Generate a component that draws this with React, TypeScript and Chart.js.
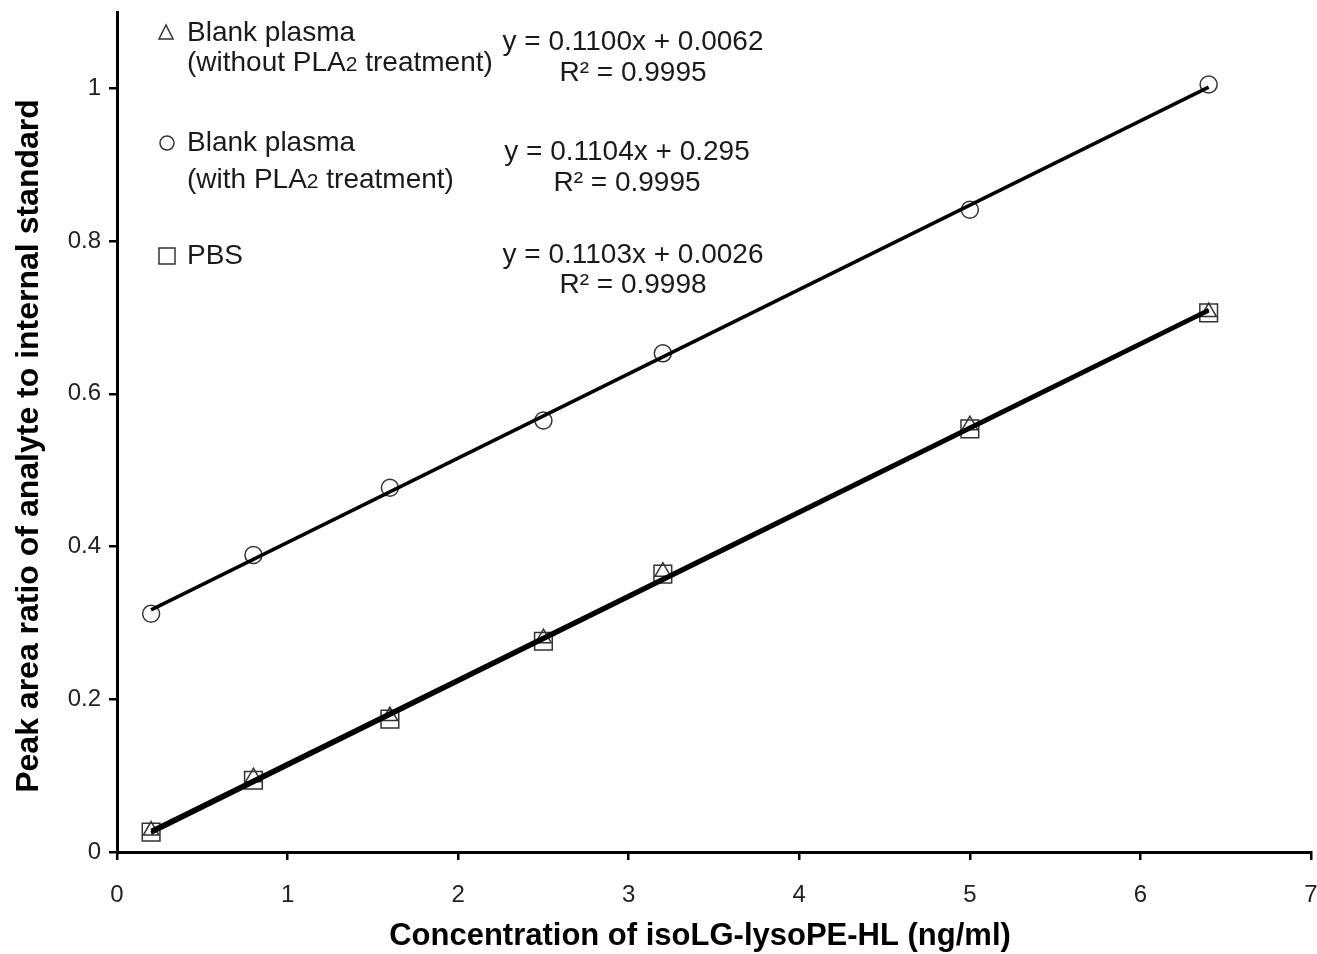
import React, { useEffect, useRef } from "react";
import { Chart, registerables } from "chart.js";

Chart.register(...registerables);

const concentrations = [0.2, 0.8, 1.6, 2.5, 3.2, 5.0, 6.4];
const withoutPLA2 = [0.028, 0.098, 0.178, 0.28, 0.367, 0.559, 0.707];
const withPLA2 = [0.312, 0.389, 0.477, 0.565, 0.653, 0.841, 1.005];
const pbs = [0.026, 0.094, 0.174, 0.276, 0.364, 0.554, 0.706];

const slopes = [0.11, 0.1104, 0.1103];
const intercepts = [0.0062, 0.295, 0.0026];
const fitRange = [0.2, 6.4];

const xTicks = [0, 1, 2, 3, 4, 5, 6, 7];
const yTicks = [0, 0.2, 0.4, 0.6, 0.8, 1];

const equations = ["y = 0.1100x + 0.0062", "y = 0.1104x + 0.295", "y = 0.1103x + 0.0026"];
const r2Labels = ["R² = 0.9995", "R² = 0.9995", "R² = 0.9998"];

const xTitle = "Concentration of isoLG-lysoPE-HL (ng/ml)";
const yTitle = "Peak area ratio of analyte to internal standard";

const FONT = "'Liberation Sans', Arial, sans-serif";

const fitLine = (i: number) =>
  fitRange.map((x) => ({ x, y: slopes[i] * x + intercepts[i] }));

const toPts = (ys: number[]) => concentrations.map((x, i) => ({ x, y: ys[i] }));

const annotationPlugin = {
  id: "annotations",
  afterDraw(chart: any) {
    const ctx = chart.ctx as CanvasRenderingContext2D;
    ctx.save();
    ctx.fillStyle = "#1a1a1a";
    ctx.strokeStyle = "#333";
    ctx.lineWidth = 1.5;
    ctx.textBaseline = "middle";

    ctx.beginPath();
    ctx.moveTo(166, 25);
    ctx.lineTo(159, 39);
    ctx.lineTo(173, 39);
    ctx.closePath();
    ctx.stroke();
    ctx.beginPath();
    ctx.arc(167, 143, 7, 0, Math.PI * 2);
    ctx.stroke();
    ctx.strokeRect(159, 248, 16, 16);

    const sz = 28;
    ctx.font = `${sz}px ${FONT}`;
    ctx.textAlign = "left";
    const drawPLA = (prefix: string, suffix: string, x: number, y: number) => {
      ctx.font = `${sz}px ${FONT}`;
      ctx.fillText(prefix, x, y);
      let w = ctx.measureText(prefix).width;
      ctx.font = `${Math.round(sz * 0.75)}px ${FONT}`;
      ctx.fillText("2", x + w, y + 2);
      w += ctx.measureText("2").width;
      ctx.font = `${sz}px ${FONT}`;
      ctx.fillText(suffix, x + w, y);
    };
    ctx.fillText("Blank plasma", 187, 33);
    drawPLA("(without PLA", " treatment)", 187, 63);
    ctx.fillText("Blank plasma", 187, 143);
    drawPLA("(with PLA", " treatment)", 187, 180);
    ctx.fillText("PBS", 187, 256);

    ctx.textAlign = "center";
    const eqPos = [
      [633, 42, 73],
      [627, 152, 183],
      [633, 255, 285],
    ];
    eqPos.forEach((p, i) => {
      ctx.fillText(equations[i], p[0], p[1]);
      ctx.fillText(r2Labels[i], p[0], p[2]);
    });

    ctx.fillStyle = "#000";
    ctx.font = `bold 31px ${FONT}`;
    ctx.fillText(xTitle, 700, 936);
    ctx.font = `bold 32px ${FONT}`;
    ctx.translate(29, 446);
    ctx.rotate(-Math.PI / 2);
    ctx.fillText(yTitle, 0, 0);
    ctx.restore();
  },
};

export default function App() {
  const ref = useRef<HTMLCanvasElement | null>(null);
  useEffect(() => {
    document.body.style.margin = "0";
    document.body.style.overflow = "hidden";
    document.documentElement.style.overflow = "hidden";
    const markerCommon = {
      type: "scatter" as const,
      showLine: false,
      backgroundColor: "rgba(0,0,0,0)",
      borderColor: "#333",
      borderWidth: 1.5,
    };
    const lineCommon = {
      type: "line" as const,
      showLine: true,
      borderColor: "#000",
      borderWidth: 3.5,
      pointRadius: 0,
      fill: false,
    };
    const zeroPad = (s: any) => {
      s.paddingLeft = 0;
      s.paddingRight = 0;
      s.paddingTop = 0;
      s.paddingBottom = 0;
    };
    const chart = new Chart(ref.current!, {
      type: "scatter",
      data: {
        datasets: [
          { ...lineCommon, label: "fit without", data: fitLine(0) },
          { ...lineCommon, label: "fit with", data: fitLine(1) },
          { ...lineCommon, label: "fit PBS", data: fitLine(2) },
          { ...markerCommon, label: "Blank plasma (without PLA2 treatment)", data: toPts(withoutPLA2), pointStyle: "triangle", pointRadius: 9 },
          { ...markerCommon, label: "Blank plasma (with PLA2 treatment)", data: toPts(withPLA2), pointStyle: "circle", pointRadius: 8.5 },
          { ...markerCommon, label: "PBS", data: toPts(pbs), pointStyle: "rect", pointRadius: 12.5 },
        ] as any,
      },
      options: {
        animation: false,
        responsive: true,
        maintainAspectRatio: false,
        layout: { autoPadding: false, padding: { left: 0, right: 6, top: 12, bottom: 0 } },
        plugins: { legend: { display: false }, tooltip: { enabled: false } },
        scales: {
          x: {
            type: "linear",
            min: 0,
            max: 7,
            afterBuildTicks: (s: any) => {
              s.ticks = xTicks.map((v) => ({ value: v }));
            },
            afterFit: (s: any) => {
              s.height = 102;
              zeroPad(s);
            },
            grid: { drawOnChartArea: false, drawTicks: true, tickLength: 8, color: "#000", lineWidth: 2.5 },
            border: { display: true, color: "#000", width: 3 },
            ticks: {
              color: "#222",
              font: { family: FONT, size: 24 },
              padding: 21,
              maxRotation: 0,
              callback: (v: any) => String(v),
            },
          },
          y: {
            type: "linear",
            min: 0,
            max: 1.1,
            afterBuildTicks: (s: any) => {
              s.ticks = yTicks.map((v) => ({ value: v }));
            },
            afterFit: (s: any) => {
              s.width = 117;
              zeroPad(s);
            },
            grid: { drawOnChartArea: false, drawTicks: true, tickLength: 8, color: "#000", lineWidth: 2.5 },
            border: { display: true, color: "#000", width: 3 },
            ticks: {
              color: "#222",
              font: { family: FONT, size: 24 },
              padding: 8,
              callback: (v: any) => String(Math.round(Number(v) * 10) / 10),
            },
          },
        },
      },
      plugins: [annotationPlugin],
    });
    return () => chart.destroy();
  }, []);
  return (
    <div style={{ position: "relative", width: "1317px", height: "954px", background: "#fff" }}>
      <canvas ref={ref} />
    </div>
  );
}
